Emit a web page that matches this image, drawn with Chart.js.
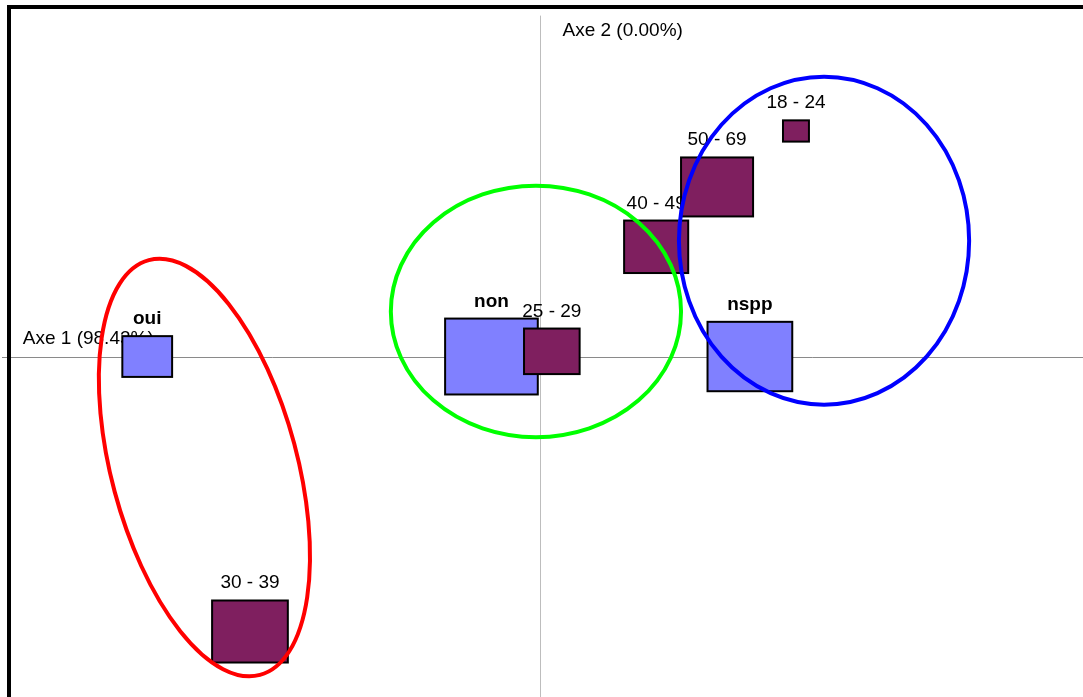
<!DOCTYPE html>
<html>
<head>
<meta charset="utf-8">
<script src="https://cdn.jsdelivr.net/npm/chart.js@4/dist/chart.umd.min.js"></script>
<style>
  body { margin: 0; background: #fff; overflow: hidden; }
  #wrap { position: relative; width: 1083px; height: 697px; }
  #chart { display: block; }
  #frame { position: absolute; left: 7px; top: 5px; width: 1200px; height: 800px;
           border-left: 4px solid #000; border-top: 4px solid #000; pointer-events: none; }
</style>
</head>
<body>
<div id="wrap">
  <canvas id="chart" width="1083" height="697"></canvas>
  <div id="frame"></div>
</div>
<script>
// modalities and their coordinates on the two factorial axes
const modalities = ['oui', 'non', 'nspp', '18 - 24', '25 - 29', '30 - 39', '40 - 49', '50 - 69'];
const axe1 = [-0.742, -0.092, 0.396, 0.483, 0.022, -0.548, 0.219, 0.334];
const axe2 = [0.0, 0.0, 0.0, 0.520, 0.012, -0.634, 0.253, 0.391];
// side of each square (weight of the modality), in axis units
const weights = [0.094, 0.175, 0.16, 0.049, 0.105, 0.143, 0.121, 0.136];
const variables = ['question', 'question', 'question', 'age', 'age', 'age', 'age', 'age'];

// groups drawn as ellipses
const groupX = [-0.634, -0.008, 0.536];
const groupY = [-0.256, 0.104, 0.267];
const groupRx = [0.1755, 0.274, 0.274];
const groupRy = [0.495, 0.29, 0.378];
const groupTilt = [-15, 0, 0];
const groupColors = ['#ff0000', '#00ff00', '#0000ff'];

const axisTitles = ['Axe 1 (98.43%)', 'Axe 2 (0.00%)'];

const fillColors = { question: '#8080ff', age: '#7f1f5f' };
const font = "'Liberation Sans', Arial, sans-serif";

const mapPlot = {
  id: 'mapPlot',
  afterDatasetsDraw(chart) {
    const { ctx, scales: { x, y } } = chart;
    ctx.save();

    // axes through the origin
    const x0 = Math.round(x.getPixelForValue(0)) + 0.5;
    const y0 = Math.round(y.getPixelForValue(0)) + 0.5;
    ctx.lineWidth = 1;
    ctx.strokeStyle = '#8a8a8a';
    ctx.beginPath();
    ctx.moveTo(chart.chartArea.left + 2, y0);
    ctx.lineTo(chart.chartArea.right, y0);
    ctx.stroke();
    ctx.strokeStyle = '#bdbdbd';
    ctx.beginPath();
    ctx.moveTo(x0, y.getPixelForValue(0.786));
    ctx.lineTo(x0, chart.chartArea.bottom);
    ctx.stroke();

    // axis titles
    ctx.fillStyle = '#000';
    ctx.font = '19px ' + font;
    ctx.textAlign = 'left';
    ctx.textBaseline = 'alphabetic';
    ctx.fillText(axisTitles[0], x.getPixelForValue(-0.977), y0 - 14);
    ctx.fillText(axisTitles[1], x0 + 22, y.getPixelForValue(0.74));

    // labels above the squares
    ctx.textAlign = 'center';
    modalities.forEach((name, i) => {
      const top = y.getPixelForValue(axe2[i] + weights[i] / 2);
      ctx.font = (variables[i] === 'question' ? 'bold ' : '') + '19px ' + font;
      ctx.fillText(name, x.getPixelForValue(axe1[i]), top - 12);
    });

    // squares
    ctx.lineWidth = 2;
    ctx.strokeStyle = '#000';
    modalities.forEach((name, i) => {
      const left = x.getPixelForValue(axe1[i] - weights[i] / 2);
      const right = x.getPixelForValue(axe1[i] + weights[i] / 2);
      const top = y.getPixelForValue(axe2[i] + weights[i] / 2);
      const bottom = y.getPixelForValue(axe2[i] - weights[i] / 2);
      ctx.fillStyle = fillColors[variables[i]];
      ctx.fillRect(left, top, right - left, bottom - top);
      ctx.strokeRect(left, top, right - left, bottom - top);
    });

    // group ellipses
    ctx.lineWidth = 4;
    groupX.forEach((cx, i) => {
      const px = x.getPixelForValue(cx);
      const py = y.getPixelForValue(groupY[i]);
      const rx = x.getPixelForValue(cx + groupRx[i]) - px;
      const ry = py - y.getPixelForValue(groupY[i] + groupRy[i]);
      ctx.strokeStyle = groupColors[i];
      ctx.beginPath();
      ctx.ellipse(px, py, rx, ry, groupTilt[i] * Math.PI / 180, 0, Math.PI * 2);
      ctx.stroke();
    });

    ctx.restore();
  }
};

const ctx = document.getElementById('chart').getContext('2d');
const chart = new Chart(ctx, {
  type: 'scatter',
  data: {
    datasets: [
      {
        label: 'modalities',
        data: axe1.map((v, i) => ({ x: v, y: axe2[i] })),
        pointRadius: 0,
        pointHoverRadius: 0,
      },
    ],
  },
  options: {
    responsive: false,
    animation: false,
    events: [],
    layout: { padding: 0 },
    plugins: {
      legend: { display: false },
      tooltip: { enabled: false },
    },
    scales: {
      x: { type: 'linear', min: -1.02, max: 1.025, display: false },
      y: { type: 'linear', min: -0.785, max: 0.822, display: false },
    },
  },
  plugins: [mapPlot],
});
</script>
</body>
</html>
